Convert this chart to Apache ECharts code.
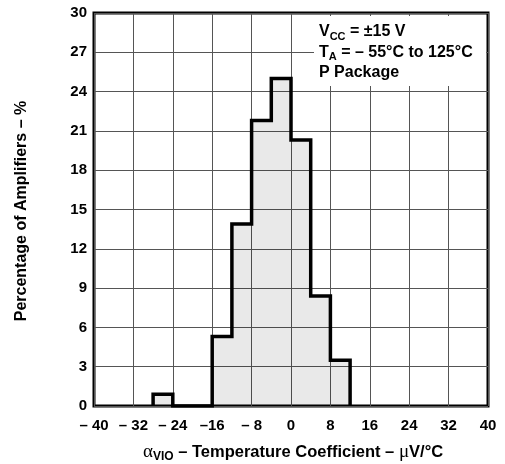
<!DOCTYPE html>
<html><head><meta charset="utf-8">
<script src="https://cdn.jsdelivr.net/npm/echarts@6/dist/echarts.min.js"></script>
<style>html,body{margin:0;padding:0;background:#fff}#c{width:505px;height:464px}</style>
</head><body><div id="c"></div>
<script>
// Histogram bins (µV/°C) and percentage of amplifiers
const binStarts = [-28, -16, -12, -8, -4, 0, 4, 8];
const binWidth = 4;
const percentages = [0.9, 5.3, 13.9, 21.8, 25.0, 20.3, 8.4, 3.5];
const xTicks = [-40, -32, -24, -16, -8, 0, 8, 16, 24, 32, 40];
const yTicks = [0, 3, 6, 9, 12, 15, 18, 21, 24, 27, 30];

// build step outline from the bins
const outline = [];
binStarts.forEach((s, i) => {
  const e = s + binWidth, v = percentages[i];
  const prevEnd = i > 0 ? binStarts[i - 1] + binWidth : null;
  const nextStart = i < binStarts.length - 1 ? binStarts[i + 1] : null;
  if (prevEnd !== s) outline.push([s, 0]);
  outline.push([s, v]);
  outline.push([e, v]);
  if (nextStart !== e) outline.push([e, 0]);
});

function fmtX(v) {
  if (v < 0) return (v <= -20 || v === -8 ? '\u2013 ' : '\u2013') + Math.abs(v);
  return String(v);
}

const font = '"Liberation Sans", Arial, sans-serif';
const chart = echarts.init(document.getElementById('c'), null, {renderer: 'canvas'});
chart.setOption({
  animation: false,
  grid: {left: 94, right: 17, top: 13, bottom: 58, show: true, borderColor: '#000', borderWidth: 3, backgroundColor: 'transparent'},
  xAxis: {
    type: 'value', min: xTicks[0], max: xTicks[xTicks.length - 1], interval: 8,
    axisLine: {show: false}, axisTick: {show: false},
    splitLine: {show: true, lineStyle: {color: '#555', width: 1}},
    axisLabel: {formatter: fmtX, color: '#000', fontFamily: font, fontWeight: 'bold', fontSize: 15, margin: 12}
  },
  yAxis: {
    type: 'value', min: yTicks[0], max: yTicks[yTicks.length - 1], interval: 3,
    axisLine: {show: false}, axisTick: {show: false},
    splitLine: {show: true, lineStyle: {color: '#555', width: 1}},
    axisLabel: {color: '#000', fontFamily: font, fontWeight: 'bold', fontSize: 15, margin: 7}
  },
  series: [{
    type: 'line', data: outline, showSymbol: false, symbol: 'none',
    lineStyle: {color: '#000', width: 3.5, join: 'miter'},
    areaStyle: {color: 'rgba(0,0,0,0.12)', origin: 'start'}
  }],
  graphic: [
    {type: 'rect', left: 314, top: 16, shape: {width: 172, height: 70}, style: {fill: '#fff'}, z: 10},
    {type: 'text', left: 319, top: 24, z: 11, style: {
      text: '{a|V}{s|CC}{a| = \u00b115 V}\n{a|T}{s|A}{a| = \u2013 55\u00b0C to 125\u00b0C}\n{a|P Package}',
      rich: {
        a: {fontFamily: font, fontWeight: 'bold', fontSize: 16, lineHeight: 20.5, fill: '#000'},
        s: {fontFamily: font, fontWeight: 'bold', fontSize: 11, lineHeight: 10, verticalAlign: 'bottom', fill: '#000'}
      }
    }},
    {type: 'text', left: 143, top: 443, z: 11, style: {
      text: '{g|\u03b1}{s|VIO}{a| \u2013 Temperature Coefficient \u2013 }{g|\u03bc}{a|V/\u00b0C}',
      rich: {
        a: {fontFamily: font, fontWeight: 'bold', fontSize: 16.5, lineHeight: 20, fill: '#000'},
        g: {fontFamily: '"Liberation Serif", serif', fontSize: 19, lineHeight: 20, fill: '#000'},
        s: {fontFamily: font, fontWeight: 'bold', fontSize: 12, lineHeight: 10, verticalAlign: 'bottom', fill: '#000'}
      }
    }},
    {type: 'text', rotation: Math.PI / 2, z: 11, position: [22, 211], style: {
      text: 'Percentage of Amplifiers \u2013 %', fontFamily: font, fontWeight: 'bold', fontSize: 16, fill: '#000',
      align: 'center', verticalAlign: 'middle'
    }}
  ]
});
</script></body></html>
